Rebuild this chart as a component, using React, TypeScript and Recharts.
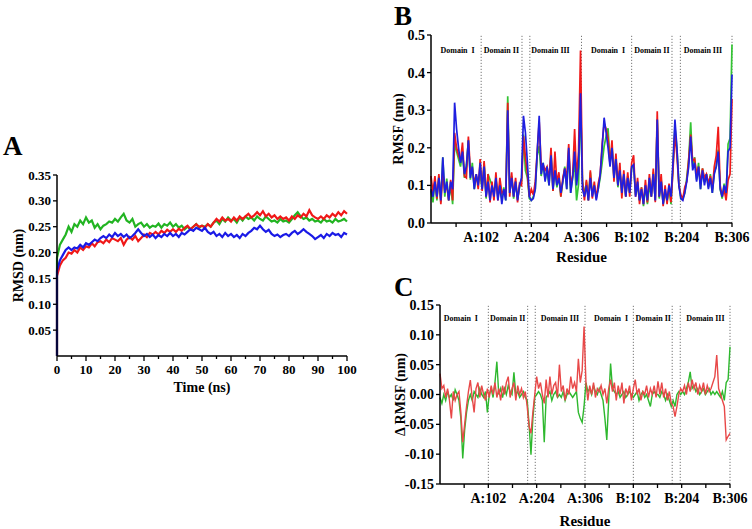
import { LineChart, Line, XAxis, YAxis, ReferenceLine, ReferenceDot } from "recharts";

const FONT = "'Liberation Serif', 'Times New Roman', serif";

// Panel A: backbone RMSD, one value per ns (0..100)
const RMSD_START = 0;
const rmsdGreen = [
  0.19, 0.215, 0.225, 0.235, 0.25, 0.24, 0.255, 0.25, 0.262, 0.255,
  0.268, 0.258, 0.262, 0.248, 0.255, 0.245, 0.252, 0.255, 0.26, 0.258,
  0.265, 0.26, 0.268, 0.275, 0.262, 0.258, 0.265, 0.25, 0.255, 0.258,
  0.25, 0.255, 0.248, 0.252, 0.25, 0.256, 0.248, 0.255, 0.252, 0.258,
  0.25, 0.255, 0.248, 0.252, 0.245, 0.25, 0.245, 0.25, 0.255, 0.248,
  0.252, 0.25, 0.255, 0.25, 0.258, 0.262, 0.255, 0.265, 0.26, 0.268,
  0.262, 0.265, 0.258, 0.268, 0.262, 0.27, 0.265, 0.268, 0.262, 0.27,
  0.265, 0.262, 0.27, 0.265, 0.26, 0.262, 0.258, 0.265, 0.26, 0.262,
  0.258, 0.265, 0.272, 0.278, 0.27, 0.265, 0.268, 0.262, 0.265, 0.26,
  0.262, 0.258, 0.265, 0.26, 0.262, 0.258, 0.265, 0.26, 0.262, 0.265,
  0.26,
];
const rmsdRed = [
  0.155, 0.175, 0.185, 0.19, 0.2, 0.198, 0.205, 0.2, 0.21, 0.205,
  0.212, 0.21, 0.218, 0.212, 0.22, 0.222, 0.218, 0.225, 0.22, 0.228,
  0.225, 0.222, 0.228, 0.215, 0.225, 0.23, 0.225, 0.232, 0.222, 0.228,
  0.235, 0.23, 0.238, 0.235, 0.24, 0.235, 0.242, 0.238, 0.244, 0.24,
  0.245, 0.24, 0.246, 0.242, 0.248, 0.252, 0.245, 0.25, 0.255, 0.25,
  0.252, 0.248, 0.255, 0.25, 0.258, 0.265, 0.26, 0.268, 0.262, 0.265,
  0.26, 0.268, 0.262, 0.27, 0.265, 0.27, 0.275, 0.268, 0.272, 0.278,
  0.272, 0.28, 0.27, 0.275, 0.268, 0.272, 0.265, 0.27, 0.265, 0.268,
  0.262, 0.27, 0.265, 0.272, 0.268, 0.275, 0.27, 0.282, 0.272, 0.268,
  0.265, 0.27, 0.265, 0.272, 0.268, 0.275, 0.27, 0.278, 0.272, 0.28,
  0.275,
];
const rmsdBlue = [
  0.165, 0.185, 0.195, 0.205, 0.21, 0.205, 0.21, 0.208, 0.215, 0.21,
  0.218, 0.215, 0.22, 0.225, 0.222, 0.228, 0.232, 0.228, 0.235, 0.23,
  0.238, 0.232, 0.236, 0.23, 0.235, 0.228, 0.232, 0.238, 0.245, 0.238,
  0.232, 0.236, 0.23, 0.235, 0.228, 0.234, 0.23, 0.236, 0.232, 0.238,
  0.232, 0.236, 0.23, 0.238, 0.235, 0.24, 0.245, 0.242, 0.248, 0.245,
  0.242, 0.248, 0.24, 0.236, 0.24, 0.232, 0.236, 0.23, 0.238, 0.232,
  0.236, 0.23, 0.234, 0.228, 0.236, 0.232, 0.238, 0.242, 0.248, 0.245,
  0.252, 0.245, 0.24, 0.244, 0.236, 0.232, 0.235, 0.23, 0.234, 0.236,
  0.232, 0.238, 0.242, 0.236, 0.24, 0.245, 0.24, 0.236, 0.232, 0.226,
  0.23, 0.234, 0.228, 0.236, 0.232, 0.238, 0.234, 0.236, 0.23, 0.238,
  0.235,
];
const timeTicks = [0, 5, 10, 15, 20, 25, 30, 35, 40, 45, 50, 55, 60, 65, 70, 75, 80, 85, 90, 95, 100];
const rmsdTicks = [0.05, 0.1, 0.15, 0.2, 0.25, 0.3, 0.35];

// Panels B and C: sampled every 4th residue over chains A and B (0..612)
const RES_STEP = 4;
const rmsfBlue = [
  0.09, 0.07, 0.11, 0.07, 0.12, 0.06, 0.175, 0.08, 0.11, 0.06,
  0.11, 0.09, 0.32, 0.25, 0.2, 0.16, 0.19, 0.13, 0.15, 0.22,
  0.12, 0.15, 0.09, 0.13, 0.1, 0.16, 0.09, 0.15, 0.07, 0.11,
  0.06, 0.1, 0.07, 0.12, 0.06, 0.1, 0.05, 0.09, 0.06, 0.3,
  0.08, 0.12, 0.07, 0.11, 0.06, 0.1, 0.12, 0.285, 0.24, 0.16,
  0.07, 0.06, 0.065, 0.09, 0.19, 0.285, 0.13, 0.16, 0.11, 0.15,
  0.1, 0.18, 0.09, 0.14, 0.1, 0.12, 0.08, 0.11, 0.145, 0.09,
  0.2, 0.08, 0.12, 0.19, 0.1, 0.15, 0.345, 0.09, 0.07, 0.1,
  0.06, 0.12, 0.07, 0.1, 0.06, 0.09, 0.13, 0.2, 0.28, 0.24,
  0.2, 0.15, 0.2, 0.12, 0.17, 0.1, 0.14, 0.08, 0.13, 0.07,
  0.12, 0.08, 0.15, 0.155, 0.07, 0.11, 0.06, 0.09, 0.05, 0.1,
  0.06, 0.12, 0.07, 0.13, 0.06, 0.275, 0.07, 0.11, 0.05, 0.09,
  0.06, 0.1, 0.07, 0.16, 0.275, 0.2, 0.1, 0.065, 0.06, 0.08,
  0.11, 0.15, 0.23, 0.14, 0.16, 0.11, 0.15, 0.09, 0.14, 0.1,
  0.13, 0.09, 0.12, 0.08, 0.13, 0.15, 0.19, 0.09, 0.07, 0.1,
  0.08, 0.19, 0.2, 0.395,
];
// ΔRMSF (panel C): red and green systems minus the blue reference
const dRmsfRed = [
  0.035, 0.01, 0.015, -0.005, 0.01, -0.01, -0.04, 0.005, -0.01, 0.0,
  0.005, -0.03, -0.08, -0.05, -0.02, 0.005, 0.024, -0.005, -0.03, 0.01,
  0.02, -0.005, 0.015, 0.0, -0.01, 0.01, -0.005, 0.015, 0.0, 0.02,
  -0.005, 0.01, -0.01, 0.015, 0.0, 0.02, 0.03, -0.005, 0.01, 0.02,
  -0.01, 0.015, 0.0, 0.01, -0.005, 0.005, -0.02, -0.054, -0.065, -0.03,
  0.0, 0.03, 0.01, 0.02, 0.0, -0.015, 0.025, -0.005, 0.03, 0.0,
  0.015, 0.02, -0.005, 0.05, 0.005, 0.015, -0.01, 0.01, 0.0, 0.03,
  0.01, 0.02, 0.005, 0.06, 0.02, 0.04, 0.114, 0.02, -0.01, 0.015,
  0.0, 0.02, -0.005, 0.01, 0.005, 0.015, 0.0, 0.01, -0.015, 0.01,
  0.025, 0.005, 0.02, -0.01, 0.015, 0.0, 0.02, -0.015, 0.01, 0.0,
  0.015, -0.01, 0.01, 0.025, 0.0, 0.01, -0.01, 0.005, 0.0, 0.015,
  -0.005, 0.01, 0.0, 0.015, -0.005, 0.022, 0.0, 0.02, -0.005, 0.01,
  -0.01, 0.005, -0.015, -0.02, -0.037, -0.02, 0.0, 0.01, 0.005, 0.015,
  0.0, 0.02, 0.005, 0.025, 0.01, 0.02, 0.0, 0.015, 0.005, 0.02,
  0.0, 0.015, 0.005, 0.01, 0.02, 0.03, 0.066, 0.01, 0.0, -0.01,
  -0.02, -0.076, -0.07, -0.065,
];
const dRmsfGreen = [
  -0.005, -0.015, 0.0, -0.01, 0.005, -0.005, 0.0, -0.01, 0.008, 0.0,
  -0.01, -0.04, -0.107, -0.06, -0.03, -0.01, 0.0, -0.01, 0.005, 0.0,
  -0.005, 0.01, 0.0, -0.005, 0.005, -0.03, 0.0, 0.01, -0.005, 0.02,
  0.055, 0.0, 0.01, -0.005, 0.01, 0.0, 0.015, 0.005, 0.0, 0.037,
  0.0, 0.005, -0.005, 0.0, 0.005, -0.005, -0.01, -0.05, -0.101, -0.04,
  -0.005, 0.0, 0.005, 0.0, -0.01, -0.08, -0.005, 0.0, 0.005, -0.01,
  0.0, 0.005, -0.005, 0.0, -0.005, 0.005, -0.01, 0.0, 0.005, 0.0,
  -0.005, 0.0, 0.005, -0.03, -0.04, -0.047, -0.02, 0.02, 0.005, 0.01,
  0.0, 0.015, 0.005, 0.0, 0.01, 0.0, -0.01, -0.04, -0.076, -0.01,
  0.052, 0.01, 0.005, 0.0, 0.005, -0.005, 0.0, 0.005, -0.005, 0.0,
  0.005, 0.0, -0.005, 0.0, 0.005, -0.01, 0.0, 0.005, -0.005, 0.0,
  -0.01, -0.02, 0.0, 0.005, 0.0, 0.0, -0.005, 0.005, 0.0, -0.01,
  0.0, -0.01, -0.02, -0.01, -0.02, 0.0, 0.005, 0.0, 0.005, 0.0,
  0.01, 0.02, 0.038, 0.01, 0.015, 0.005, 0.01, 0.0, 0.005, 0.01,
  0.0, 0.005, 0.01, 0.0, 0.005, 0.0, 0.005, 0.0, -0.005, 0.005,
  -0.01, 0.02, 0.025, 0.08,
];

const residueTicks = [51, 102, 153, 204, 255, 306, 357, 408, 459, 510, 561, 612];
const residueTickLabels: Record<number, string> = {
  102: "A:102", 204: "A:204", 306: "A:306", 408: "B:102", 510: "B:204", 612: "B:306",
};
const domainLines = [102, 185, 201, 306, 408, 490, 507, 612];
const domainNames = ["Domain\u00a0\u00a0I", "Domain II", "Domain III", "Domain\u00a0\u00a0I", "Domain II", "Domain III"];
const domainPosB = [54, 143, 243, 360, 449, 553];
const domainPosC = [44, 143, 253, 361, 450, 560];
const rmsfTicks = [0, 0.1, 0.2, 0.3, 0.4, 0.5];
const dRmsfTicks = [-0.15, -0.1, -0.05, 0, 0.05, 0.1, 0.15];

const rmsdRows = [
  { t: 0, green: RMSD_START, red: RMSD_START, blue: RMSD_START },
  ...rmsdBlue.map((b, i) => ({ t: i, green: rmsdGreen[i], red: rmsdRed[i], blue: b })),
];
const rmsfRows = rmsfBlue.map((b, i) => ({
  res: i * RES_STEP,
  blue: b,
  red: b + dRmsfRed[i],
  green: b + dRmsfGreen[i],
  dRed: dRmsfRed[i],
  dGreen: dRmsfGreen[i],
}));

const tickFont = { fill: "#000", fontSize: 13, fontWeight: "bold", fontFamily: FONT };
const tickFontLg = { ...tickFont, fontSize: 14 };
const titleStyle = { fill: "#000", fontSize: 14, fontWeight: "bold", fontFamily: FONT, textAnchor: "middle" };
const axisLine = { stroke: "#000", strokeWidth: 1.5 };

function TimeTick({ x, y, payload }: any) {
  const major = payload.value % 10 === 0;
  return (
    <g>
      <line x1={x} x2={x} y1={y} y2={y + (major ? 5 : 3)} stroke="#000" strokeWidth={1.3} />
      {major && (
        <text x={x} y={y + 17.6} textAnchor="middle" {...tickFont}>
          {payload.value}
        </text>
      )}
    </g>
  );
}

function ResidueTick({ x, y, payload }: any) {
  const label = residueTickLabels[payload.value];
  return (
    <g>
      <line x1={x} x2={x} y1={y} y2={y + 4} stroke="#000" strokeWidth={1.3} />
      {label && (
        <text x={x} y={y + 18.8} textAnchor="middle" {...tickFontLg}>
          {label}
        </text>
      )}
    </g>
  );
}

function DomainMarks(pos: number[], y: number) {
  return [
    ...domainLines.map((r) => (
      <ReferenceLine key={"l" + r} x={r} stroke="#777" strokeDasharray="1.2 1.8" strokeWidth={1} />
    )),
    ...domainNames.map((name, i) => (
      <ReferenceDot
        key={"d" + i}
        x={pos[i]}
        y={y}
        r={1}
        fill="none"
        stroke="none"
        label={{ value: name, position: "center", fill: "#000", fontSize: 8, fontWeight: "bold", fontFamily: FONT }}
      />
    )),
  ];
}

export default function App() {
  return (
    <div style={{ position: "absolute", left: 0, top: 0, width: 752, height: 529, background: "#fff", fontFamily: FONT }}>
      <div style={{ position: "absolute", left: 0, top: 0 }}>
        <LineChart width={380} height={410} data={rmsdRows} margin={{ top: 175, right: 33, bottom: 0, left: 0 }}>
          <XAxis
            dataKey="t"
            type="number"
            domain={[0, 100]}
            ticks={timeTicks}
            interval={0}
            tick={<TimeTick />}
            tickLine={false}
            tickSize={0}
            tickMargin={0}
            height={54}
            axisLine={axisLine}
            label={{ value: "Time (ns)", position: "insideBottom", offset: 18, style: titleStyle }}
          />
          <YAxis
            type="number"
            domain={[0, 0.35]}
            ticks={rmsdTicks}
            interval={0}
            width={57}
            tick={tickFont}
            tickLine={{ stroke: "#000", strokeWidth: 1.3 }}
            tickSize={4}
            tickMargin={2}
            tickFormatter={(v: number) => v.toFixed(2)}
            axisLine={axisLine}
            label={{ value: "RMSD (nm)", angle: -90, position: "insideLeft", offset: 18, style: titleStyle }}
          />
          <Line dataKey="green" stroke="#22b422" strokeWidth={2.2} dot={false} isAnimationActive={false} />
          <Line dataKey="red" stroke="#f01818" strokeWidth={2.2} dot={false} isAnimationActive={false} />
          <Line dataKey="blue" stroke="#1a1ae6" strokeWidth={2.2} dot={false} isAnimationActive={false} />
        </LineChart>
      </div>

      <div style={{ position: "absolute", left: 380, top: 0 }}>
        <LineChart width={372} height={270} data={rmsfRows} margin={{ top: 35, right: 20, bottom: 0, left: 0 }}>
          {DomainMarks(domainPosB, 0.46)}
          <XAxis
            dataKey="res"
            type="number"
            domain={[0, 612]}
            ticks={residueTicks}
            interval={0}
            tick={<ResidueTick />}
            tickLine={false}
            tickSize={0}
            tickMargin={0}
            height={47}
            axisLine={axisLine}
            label={{ value: "Residue", position: "insideBottom", offset: 8, style: { ...titleStyle, fontSize: 15 } }}
          />
          <YAxis
            type="number"
            domain={[0, 0.5]}
            ticks={rmsfTicks}
            interval={0}
            width={51}
            tick={tickFontLg}
            tickLine={{ stroke: "#000", strokeWidth: 1.3 }}
            tickSize={4}
            tickMargin={2}
            tickFormatter={(v: number) => v.toFixed(1)}
            axisLine={axisLine}
            label={{ value: "RMSF  (nm)", angle: -90, position: "insideLeft", offset: 18, style: titleStyle }}
          />
          <Line dataKey="green" stroke="#33c433" strokeWidth={1.7} dot={false} isAnimationActive={false} />
          <Line dataKey="red" stroke="#f01a1a" strokeWidth={1.7} dot={false} isAnimationActive={false} />
          <Line dataKey="blue" stroke="#1f1fe0" strokeWidth={1.7} dot={false} isAnimationActive={false} />
        </LineChart>
      </div>

      <div style={{ position: "absolute", left: 380, top: 270 }}>
        <LineChart width={372} height={259} data={rmsfRows} margin={{ top: 35, right: 22, bottom: 0, left: 0 }}>
          {DomainMarks(domainPosC, 0.128)}
          <XAxis
            dataKey="res"
            type="number"
            domain={[0, 612]}
            ticks={residueTicks}
            interval={0}
            tick={<ResidueTick />}
            tickLine={false}
            tickSize={0}
            tickMargin={0}
            height={45}
            axisLine={axisLine}
            label={{ value: "Residue", position: "insideBottom", offset: 3, style: { ...titleStyle, fontSize: 15 } }}
          />
          <YAxis
            type="number"
            domain={[-0.15, 0.15]}
            ticks={dRmsfTicks}
            interval={0}
            width={60}
            tick={tickFontLg}
            tickLine={{ stroke: "#000", strokeWidth: 1.3 }}
            tickSize={4}
            tickMargin={2}
            tickFormatter={(v: number) => v.toFixed(2)}
            axisLine={axisLine}
            label={{ value: "Δ RMSF (nm)", angle: -90, position: "insideLeft", offset: 20, style: titleStyle }}
          />
          <Line dataKey="dGreen" stroke="#2eb82e" strokeWidth={1.4} dot={false} isAnimationActive={false} />
          <Line dataKey="dRed" stroke="#e84848" strokeWidth={1.4} dot={false} isAnimationActive={false} />
        </LineChart>
      </div>

      <svg width={752} height={529} style={{ position: "absolute", left: 0, top: 0, pointerEvents: "none" }}>
        <text x={3} y={155} fontSize={27} fontWeight="bold" fontFamily={FONT} fill="#000">A</text>
        <text x={394} y={25} fontSize={27} fontWeight="bold" fontFamily={FONT} fill="#000">B</text>
        <text x={394} y={296} fontSize={27} fontWeight="bold" fontFamily={FONT} fill="#000">C</text>
      </svg>
    </div>
  );
}
